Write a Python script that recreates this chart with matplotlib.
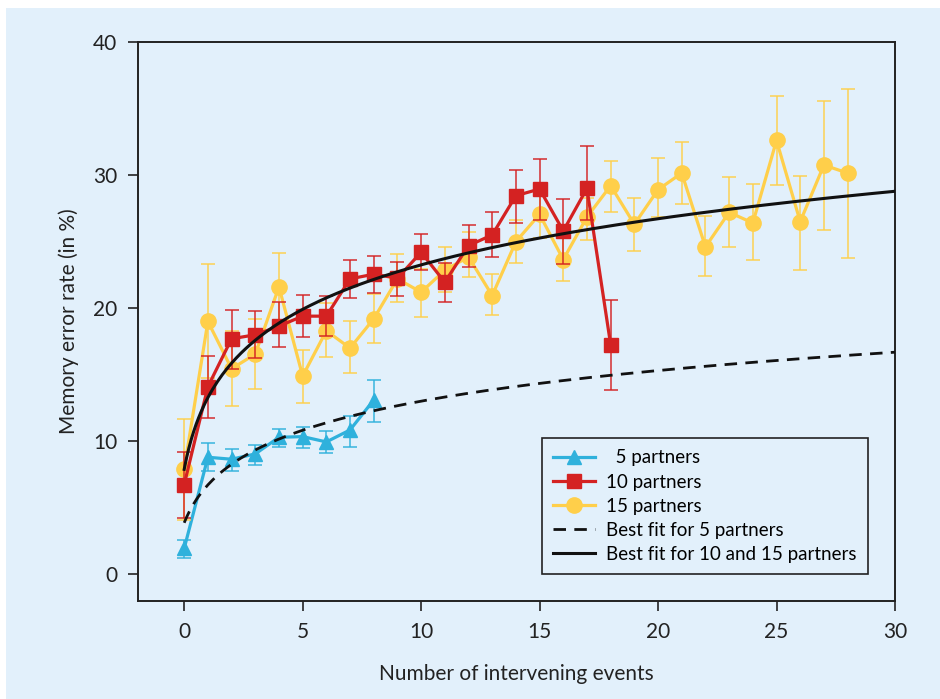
import numpy as np
import matplotlib
matplotlib.use("Agg")
import matplotlib.pyplot as plt
from matplotlib.patches import Rectangle

# data
x5 = [0, 1, 2, 3, 4, 5, 6, 7, 8]
y5 = [1.95, 8.8, 8.65, 9.05, 10.3, 10.35, 9.95, 10.85, 13.1]
y5_hi = [2.6, 9.85, 9.45, 9.7, 10.9, 11.05, 10.8, 11.9, 14.6]
y5_lo = [1.25, 7.8, 7.8, 8.25, 9.6, 9.5, 9.1, 9.6, 11.45]

x10 = list(range(19))
y10 = [6.75, 14.1, 17.7, 18.0, 18.65, 19.4, 19.4, 22.2, 22.55, 22.25, 24.2,
       21.95, 24.7, 25.5, 28.45, 28.95, 25.8, 29.0, 17.25]
y10_hi = [9.2, 16.4, 19.85, 19.8, 20.5, 21.0, 20.9, 23.6, 23.9, 23.5, 25.55,
          23.4, 26.25, 27.2, 30.4, 31.2, 28.2, 32.15, 20.6]
y10_lo = [4.25, 11.75, 15.45, 16.25, 17.05, 17.8, 17.9, 20.75, 21.15, 20.9, 22.85,
          20.45, 23.1, 23.85, 26.4, 26.65, 23.3, 26.65, 13.85]

x15 = list(range(29))
y15 = [7.9, 19.0, 15.45, 16.55, 21.6, 14.9, 18.3, 17.0, 19.2, 22.2, 21.2,
       22.85, 23.85, 20.95, 25.0, 27.05, 23.65, 26.85, 29.2, 26.3, 28.9,
       30.15, 24.6, 27.2, 26.4, 32.6, 26.5, 30.75, 30.15]
y15_hi = [11.65, 23.3, 18.3, 19.2, 24.15, 16.85, 20.4, 19.05, 21.1, 24.05, 22.95,
          24.6, 25.75, 22.6, 26.6, 29.0, 25.65, 28.3, 31.05, 28.3, 31.25,
          32.5, 26.95, 29.85, 29.3, 35.95, 29.95, 35.55, 36.5]
y15_lo = [4.05, 14.75, 12.65, 13.95, 19.1, 12.9, 16.35, 15.15, 17.4, 20.45, 19.35,
          21.2, 22.35, 19.45, 23.4, 25.3, 22.05, 25.1, 27.25, 24.3, 26.85,
          27.8, 22.45, 24.6, 23.6, 29.25, 22.9, 25.85, 23.75]

# best fit curves: a + b*ln(x + c)
fit5 = (4.66, 3.51, 0.8)
fit1015 = (11.0, 5.2, 0.55)

bg = '#e2f0fb'
c_blue = '#2fb1dc'
c_red = '#d42222'
c_yel = '#ffcf4a'

plt.rcParams['font.family'] = ['Lato', 'DejaVu Sans']

fig = plt.figure(figsize=(9.4, 6.99), dpi=100)
fig.patch.set_facecolor('white')
fig.patches.append(Rectangle((6 / 940, 0), 1, 1 - 8 / 699, transform=fig.transFigure,
                             facecolor=bg, edgecolor='none', zorder=-10))
ax = fig.add_axes([0.1468, 0.1402, 0.8053, 0.7998])
ax.set_facecolor(bg)


def draw(x, y, lo, hi, color, marker, ms, label, z):
    y = np.array(y)
    err = [y - np.array(lo), np.array(hi) - y]
    ax.errorbar(x, y, yerr=err, fmt='none', ecolor=color, elinewidth=1.3,
                capsize=5, capthick=1.3, alpha=0.8, zorder=z)
    ax.plot(x, y, color=color, lw=2.3, marker=marker, ms=ms, label=label, zorder=z + 0.5)


draw(x5, y5, y5_lo, y5_hi, c_blue, '^', 10, '  5 partners', 3)
draw(x15, y15, y15_lo, y15_hi, c_yel, 'o', 11, '15 partners', 4)
draw(x10, y10, y10_lo, y10_hi, c_red, 's', 10.5, '10 partners', 5)

xx = np.linspace(0, 30, 300)
ax.plot(xx, fit5[0] + fit5[1] * np.log(xx + fit5[2]), color='#111111', lw=2.0,
        ls=(0, (4.5, 3)), label='Best fit for 5 partners', zorder=6)
ax.plot(xx, fit1015[0] + fit1015[1] * np.log(xx + fit1015[2]), color='#111111', lw=2.2,
        label='Best fit for 10 and 15 partners', zorder=6)

ax.set_xlim(-1.95, 30)
ax.set_ylim(-2, 40)
ax.set_xticks([0, 5, 10, 15, 20, 25, 30])
ax.set_yticks([0, 10, 20, 30, 40])
ax.tick_params(direction='out', length=7, width=1.2, labelsize=15, colors='#222222', pad=8)
for s in ax.spines.values():
    s.set_linewidth(1.4)
    s.set_color('#222222')
ax.set_xlabel('Number of intervening events', fontsize=15, color='#222222', labelpad=16)
ax.set_ylabel('Memory error rate (in %)', fontsize=15, color='#222222', labelpad=10)

h, l = ax.get_legend_handles_labels()
order = [0, 2, 1, 3, 4]
leg = ax.legend([h[i] for i in order], [l[i] for i in order], loc='lower right',
                bbox_to_anchor=(0.964, 0.048), borderaxespad=0, frameon=True, fancybox=False,
                edgecolor='#222222', facecolor=bg, framealpha=1, handlelength=2.2,
                handletextpad=0.6, labelspacing=0.38, borderpad=0.6,
                prop={'family': ['Lato', 'DejaVu Sans'], 'size': 13.5})
leg.get_frame().set_linewidth(1.2)

plt.savefig('out.png', dpi=100, facecolor=fig.get_facecolor())
